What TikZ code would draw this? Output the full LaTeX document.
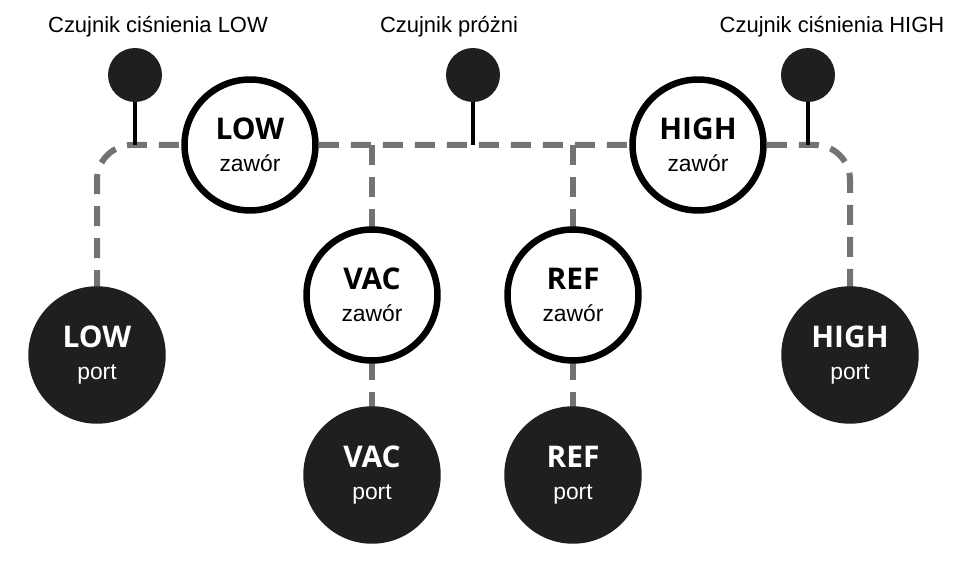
\documentclass[tikz,border=0pt]{standalone}
\usepackage{fontspec}
\setmainfont{Liberation Sans}
\newfontfamily\boldface{Open Sans}
\usetikzlibrary{positioning}
\tikzset{
  valve/.style={circle, draw=black, line width=1.3mm, fill=white, minimum size=2.62cm, align=center, font=\fontsize{13}{16}\selectfont, inner sep=0pt},
  portnode/.style={valve, fill=black!88, draw=black!88, text=white},
  sensor/.style={circle, fill=black!88, minimum size=1.08cm, inner sep=0pt},
  pipe/.style={draw=black!55, line width=1.2mm, dash pattern=on 0.4cm off 0.24cm, rounded corners=0.7cm},
  stem/.style={draw=black, line width=0.8mm},
  caption/.style={font=\fontsize{12.5}{15}\selectfont}
}
\newcommand{\vname}[2]{{\boldface\bfseries\fontsize{17}{20}\selectfont #1}\\[2pt]#2}
\begin{document}
\begin{tikzpicture}[x=0.02cm, y=-0.02cm]
    \useasboundingbox (0,0) rectangle (970,563);

    % Labels
    \node[caption] (lowlabel) at (158,27) {Czujnik ciśnienia LOW};
    \node[caption] (vaclabel) at (449,27) {Czujnik próżni};
    \node[caption] (highlabel) at (832,27) {Czujnik ciśnienia HIGH};

    % Corner and junction coordinates
    \coordinate (lc) at (97,145);
    \coordinate (rc) at (850,145);
    \coordinate (vj) at (372,145);
    \coordinate (rj) at (573,145);
    \coordinate (s1) at (135,145);
    \coordinate (s2) at (473,145);
    \coordinate (s3) at (808,145);

    % Pipes
    \draw[pipe] (97,290) -- (lc) -- (rc) -- (850,290);
    \draw[pipe] (vj) -- (372,230);
    \draw[pipe] (rj) -- (573,230);
    \draw[pipe] (372,360) -- (372,410);
    \draw[pipe] (573,360) -- (573,410);

    % Sensors
    \node[sensor] (sl) at (135,75) {};
    \node[sensor] (sv) at (473,75) {};
    \node[sensor] (sh) at (808,75) {};
    \draw[stem] (sl) -- (s1);
    \draw[stem] (sv) -- (s2);
    \draw[stem] (sh) -- (s3);

    % Valves
    \node[valve] (lowv) at (250,145) {\vname{LOW}{zawór}};
    \node[valve] (highv) at (698,145) {\vname{HIGH}{zawór}};
    \node[valve] (vacv) at (372,295) {\vname{VAC}{zawór}};
    \node[valve] (refv) at (573,295) {\vname{REF}{zawór}};

    % Ports
    \node[portnode] (lowp) at (97,355) {\vname{LOW}{port}};
    \node[portnode] (highp) at (850,355) {\vname{HIGH}{port}};
    \node[portnode] (vacp) at (372,475) {\vname{VAC}{port}};
    \node[portnode] (refp) at (573,475) {\vname{REF}{port}};

\end{tikzpicture}
\end{document}
